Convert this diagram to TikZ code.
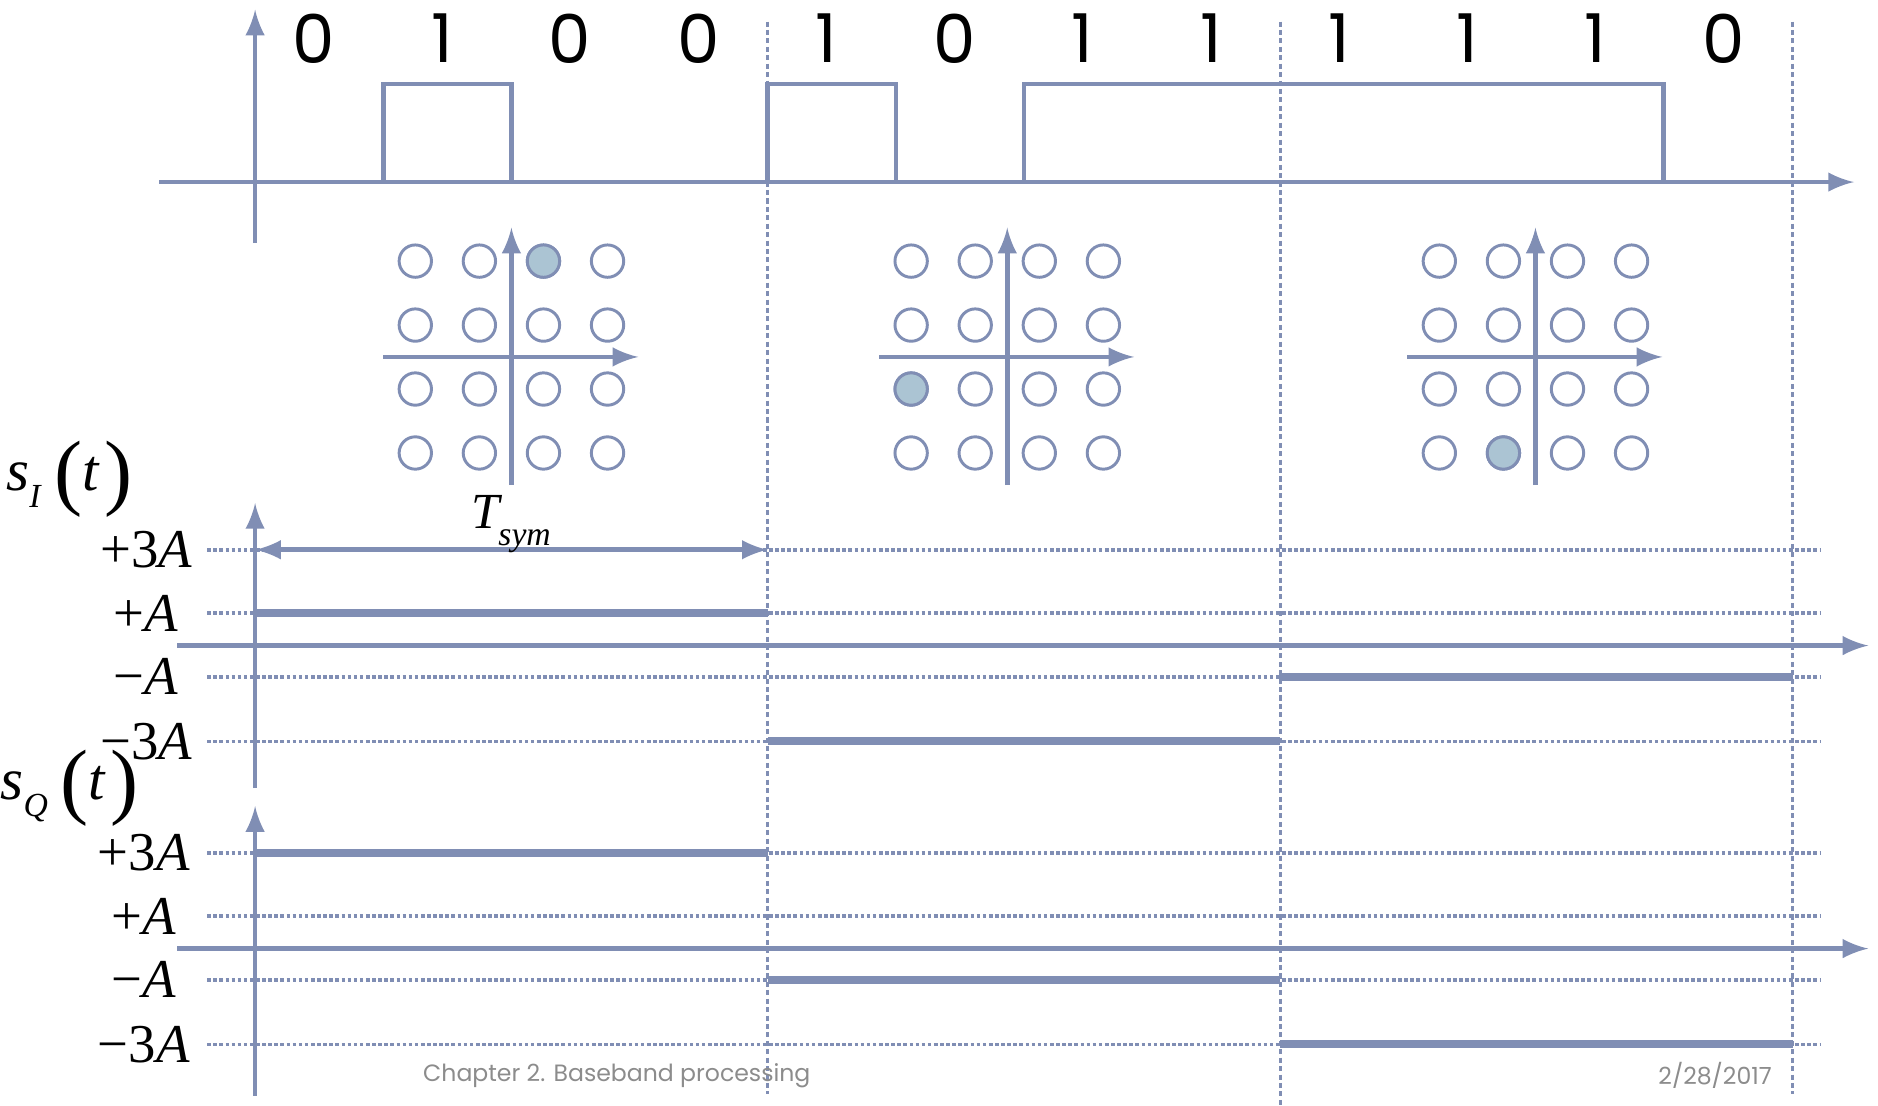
\documentclass[tikz,border=0pt]{standalone}
\usepackage{fontspec}
\usepackage{tikz}
\usetikzlibrary{arrows}
\newfontfamily\bitfont{Poppins}
\newfontfamily\symfont{Liberation Serif}
\definecolor{axisblue}{RGB}{128,142,180}
\definecolor{dotblue}{RGB}{171,196,211}
\definecolor{footgray}{RGB}{140,140,140}

\begin{document}
\begin{tikzpicture}[x=0.01cm, y=-0.01cm, >=latex,
	axis/.style={axisblue, line width=1.1pt},
	level/.style={axisblue, line width=0.9pt, dash pattern=on 0.85pt off 0.6pt},
	slot/.style={axisblue, line width=0.7pt, dash pattern=on 1.2pt off 0.8pt},
	sig/.style={axisblue, line width=1.9pt},
	qam/.style={circle, draw=axisblue, fill=white, line width=0.7pt, minimum size=0.27cm, inner sep=0pt},
	bit/.style={font=\bitfont\fontsize{16}{19}\selectfont},
	amp/.style={font=\symfont\fontsize{13}{15}\selectfont},
	sig label/.style={font=\symfont\fontsize{14}{16}\selectfont, inner sep=0pt},
	foot/.style={font=\bitfont\fontsize{5.6}{7}\selectfont, text=footgray}]
	\useasboundingbox (0,0) rectangle (1568,923);
	\foreach \x/\e in {641/913, 1069/923, 1497/913}
		\draw[slot] (\x,18) -- (\x,\e);
	% bit stream
	\draw[axis,->] (213,203) -- (213,8);
	\draw[axis,->] (133,152) -- (1548,152);
	\draw[axis] (213,152) -- (320,152) -- (320,70) -- (427,70) -- (427,152) -- (641,152) -- (641,70) -- (748,70) -- (748,152) -- (855,152) -- (855,70) -- (1389,70) -- (1389,152) -- (1497,152);
	\foreach \b [count=\i from 0] in {0,1,0,0,1,0,1,1,1,1,1,0}
		\node[bit] (bit\i) at ({262+107*\i},32) {\b};
	% 16-QAM points
	\foreach \cx/\px/\py [count=\k] in {427/2/0, 841/0/2, 1282/1/3} {
		\draw[axis,->] (\cx-107,298) -- (\cx+106,298);
		\draw[axis,->] (\cx,405) -- (\cx,190);
		\foreach \i in {0,...,3}
			\foreach \j in {0,...,3}
				\node[qam] (c\k\i\j) at ({\cx+(\i-1.5)*53.5},{218+\j*53.4}) {};
		\node[qam, fill=dotblue] (sel\k) at ({\cx+(\px-1.5)*53.5},{218+\py*53.4}) {};
	}
	% in-phase
	\node[sig label] (sI) at (58,400) {\textit{s}\raisebox{-4pt}{\fontsize{8}{9}\selectfont\textit{I}}\hspace{3pt}\raisebox{-2pt}{\fontsize{20}{22}\selectfont(}\textit{t}\hspace{1pt}\raisebox{-2pt}{\fontsize{20}{22}\selectfont)}};
	\draw[axis,->] (213,658) -- (213,420);
	\draw[axis,->] (148,539) -- (1560,539);
	\foreach \y/\l [count=\i] in {459/{+3\textit{A}}, 512/{+\textit{A}}, 565/{−\textit{A}}, 619/{−3\textit{A}}} {
		\draw[level] (173,\y) -- (1520,\y);
		\node[amp] (aI\i) at (122,\y) {\l};
	}
	\draw[axis,<->] (213,459) -- (641,459);
	\node[anchor=base west, inner sep=0pt, font=\symfont\fontsize{12}{14}\selectfont] (tsym) at (393,441) {\textit{T}\hspace{-1pt}\raisebox{-4pt}{\fontsize{8}{9}\selectfont\textit{sym}}};
	\draw[sig] (213,512) -- (641,512);
	\draw[sig] (641,619) -- (1069,619);
	\draw[sig] (1069,565) -- (1497,565);
	% quadrature
	\node[sig label] (sQ) at (58,658) {\textit{s}\raisebox{-4pt}{\fontsize{8}{9}\selectfont\textit{Q}}\hspace{3pt}\raisebox{-2pt}{\fontsize{20}{22}\selectfont(}\textit{t}\hspace{1pt}\raisebox{-2pt}{\fontsize{20}{22}\selectfont)}};
	\draw[axis,->] (213,915) -- (213,673);
	\draw[axis,->] (148,792) -- (1560,792);
	\foreach \y/\l [count=\i] in {712/{+3\textit{A}}, 765/{+\textit{A}}, 818/{−\textit{A}}, 872/{−3\textit{A}}} {
		\draw[level] (173,\y) -- (1520,\y);
		\node[amp] (aQ\i) at (120,\y) {\l};
	}
	\draw[sig] (213,712) -- (641,712);
	\draw[sig] (641,818) -- (1069,818);
	\draw[sig] (1069,872) -- (1497,872);
	\node[foot] (chap) at (515,898) {Chapter 2. Baseband processing};
	\node[foot] (date) at (1432,898) {2/28/2017};
\end{tikzpicture}
\end{document}
